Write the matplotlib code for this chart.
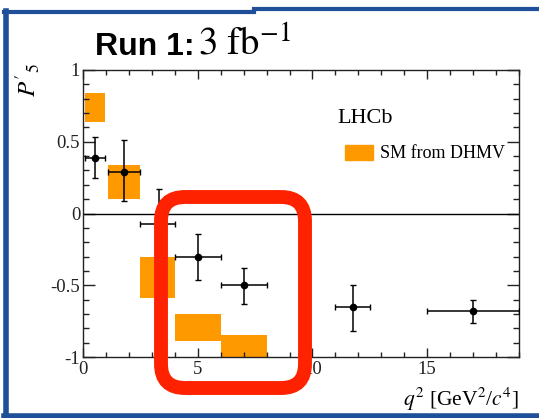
import numpy as np
import matplotlib
matplotlib.use("Agg")
import matplotlib.pyplot as plt
from matplotlib.patches import Patch, FancyBboxPatch
from matplotlib.lines import Line2D
from matplotlib.transforms import Affine2D

plt.rcParams['font.family'] = ['Liberation Serif', 'DejaVu Serif']
plt.rcParams['mathtext.fontset'] = 'stix'
plt.rcParams['axes.unicode_minus'] = False

# LHCb Run 1 measurements of P5' (bin edges in q^2, value, errors)
q2_lo = [0.1, 1.1, 2.5, 4.0, 6.0, 11.0, 15.0]
q2_hi = [0.98, 2.5, 4.0, 6.0, 8.0, 12.5, 19.0]
q2_mid = [0.54, 1.8, 3.3, 5.0, 7.0, 11.75, 17.0]
p5 = [0.39, 0.29, -0.07, -0.30, -0.50, -0.65, -0.68]
p5_up = [0.14, 0.22, 0.24, 0.16, 0.12, 0.15, 0.08]
p5_dn = [0.14, 0.20, 0.22, 0.16, 0.13, 0.17, 0.08]

# SM prediction (DHMV) boxes
sm_lo = [0.1, 1.1, 2.5, 4.0, 6.0]
sm_hi = [0.98, 2.5, 4.0, 6.0, 8.0]
sm_min = [0.64, 0.10, -0.59, -0.89, -1.0]
sm_max = [0.84, 0.34, -0.30, -0.70, -0.85]

xticks = [0, 5, 10, 15]
xtick_labels = ['0', '5', '10', '15']
yticks = [-1, -0.5, 0, 0.5, 1]
ytick_labels = ['-1', '-0.5', '0', '0.5', '1']

W, H = 539, 418
fig = plt.figure(figsize=(W / 100, H / 100), dpi=100, facecolor='white')
ax = fig.add_axes([83 / W, 1 - 357 / H, 436 / W, 287 / H])

orange = '#ff9900'
for lo, hi, a, b in zip(sm_lo, sm_hi, sm_min, sm_max):
    ax.fill_between([lo, hi], a, b, color=orange, lw=0, zorder=1)

ax.axhline(0, color='black', lw=1.0, zorder=2)

xl = np.array(q2_mid) - np.array(q2_lo)
xr = np.array(q2_hi) - np.array(q2_mid)
ax.errorbar(q2_mid, p5, xerr=[xl, xr], yerr=[p5_dn, p5_up], fmt='o', color='black',
            ms=4.5, lw=1.1, capsize=2, capthick=1.0, zorder=3)

ax.set_xlim(0, 19)
ax.set_ylim(-1, 1)
ax.set_xticks(xticks)
ax.set_xticklabels(xtick_labels)
ax.set_xticks(np.arange(0, 19.01, 1), minor=True)
ax.set_yticks(yticks)
ax.set_yticklabels(ytick_labels)
ax.set_yticks(np.arange(-1, 1.01, 0.1), minor=True)
ax.tick_params(axis='both', which='both', direction='in', top=True, right=True,
               labelsize=13.5, colors='#222222')
ax.tick_params(axis='x', which='major', length=6.5, width=1.0, pad=3)
ax.tick_params(axis='x', which='minor', length=3.3, width=1.0)
ax.tick_params(axis='y', which='major', length=8.6, width=1.0, pad=2)
ax.tick_params(axis='y', which='minor', length=4.6, width=1.0)
for s in ax.spines.values():
    s.set_linewidth(1.0)
    s.set_color('#222222')

ax.set_xlabel(r'$q^2$ [GeV$^2$/$c^4$]', fontsize=15.5, loc='right', labelpad=5)

ax.text(0.583, 0.815, 'LHCb', transform=ax.transAxes, fontsize=16, va='baseline')
ax.legend(handles=[Patch(color=orange, label='SM from DHMV')], loc='upper left',
          bbox_to_anchor=(0.6, 0.74), frameon=False, fontsize=13,
          handlelength=1.6, handleheight=0.9, handletextpad=0.35, borderpad=0,
          borderaxespad=0)

# pixel transform (origin bottom-left)
px = Affine2D().scale(1 / 100) + fig.dpi_scale_trans

fig.text(95, H - 55, 'Run 1:', transform=px, fontsize=23, fontweight='bold',
         family=['Liberation Sans', 'DejaVu Sans'], va='baseline')
fig.text(198, H - 55, r'$3\ \mathrm{fb}^{-1}$', transform=px, fontsize=28, va='baseline')
fig.text(28, H - 80, r"$P'_5$", transform=px, fontsize=18, rotation=90,
         ha='center', va='center')

# blue frame
blue = '#1f4f98'
fig.add_artist(Line2D([5.5, 5.5], [H - 11, 3], transform=px, color=blue, lw=4))
fig.add_artist(Line2D([4, 254], [H - 11.5, H - 11.5], transform=px, color=blue, lw=3))
fig.add_artist(Line2D([254, W], [H - 8.5, H - 8.5], transform=px, color=blue, lw=3))
fig.add_artist(Line2D([4, W], [2.5, 2.5], transform=px, color=blue, lw=4))

# red highlight box
box = FancyBboxPatch((161, H - 388), 144, 191, boxstyle='round,pad=0,rounding_size=24',
                     transform=px, fill=False, edgecolor='#ff2200', lw=10, zorder=10)
fig.add_artist(box)

fig.savefig('out.png', dpi=100, facecolor='white')
